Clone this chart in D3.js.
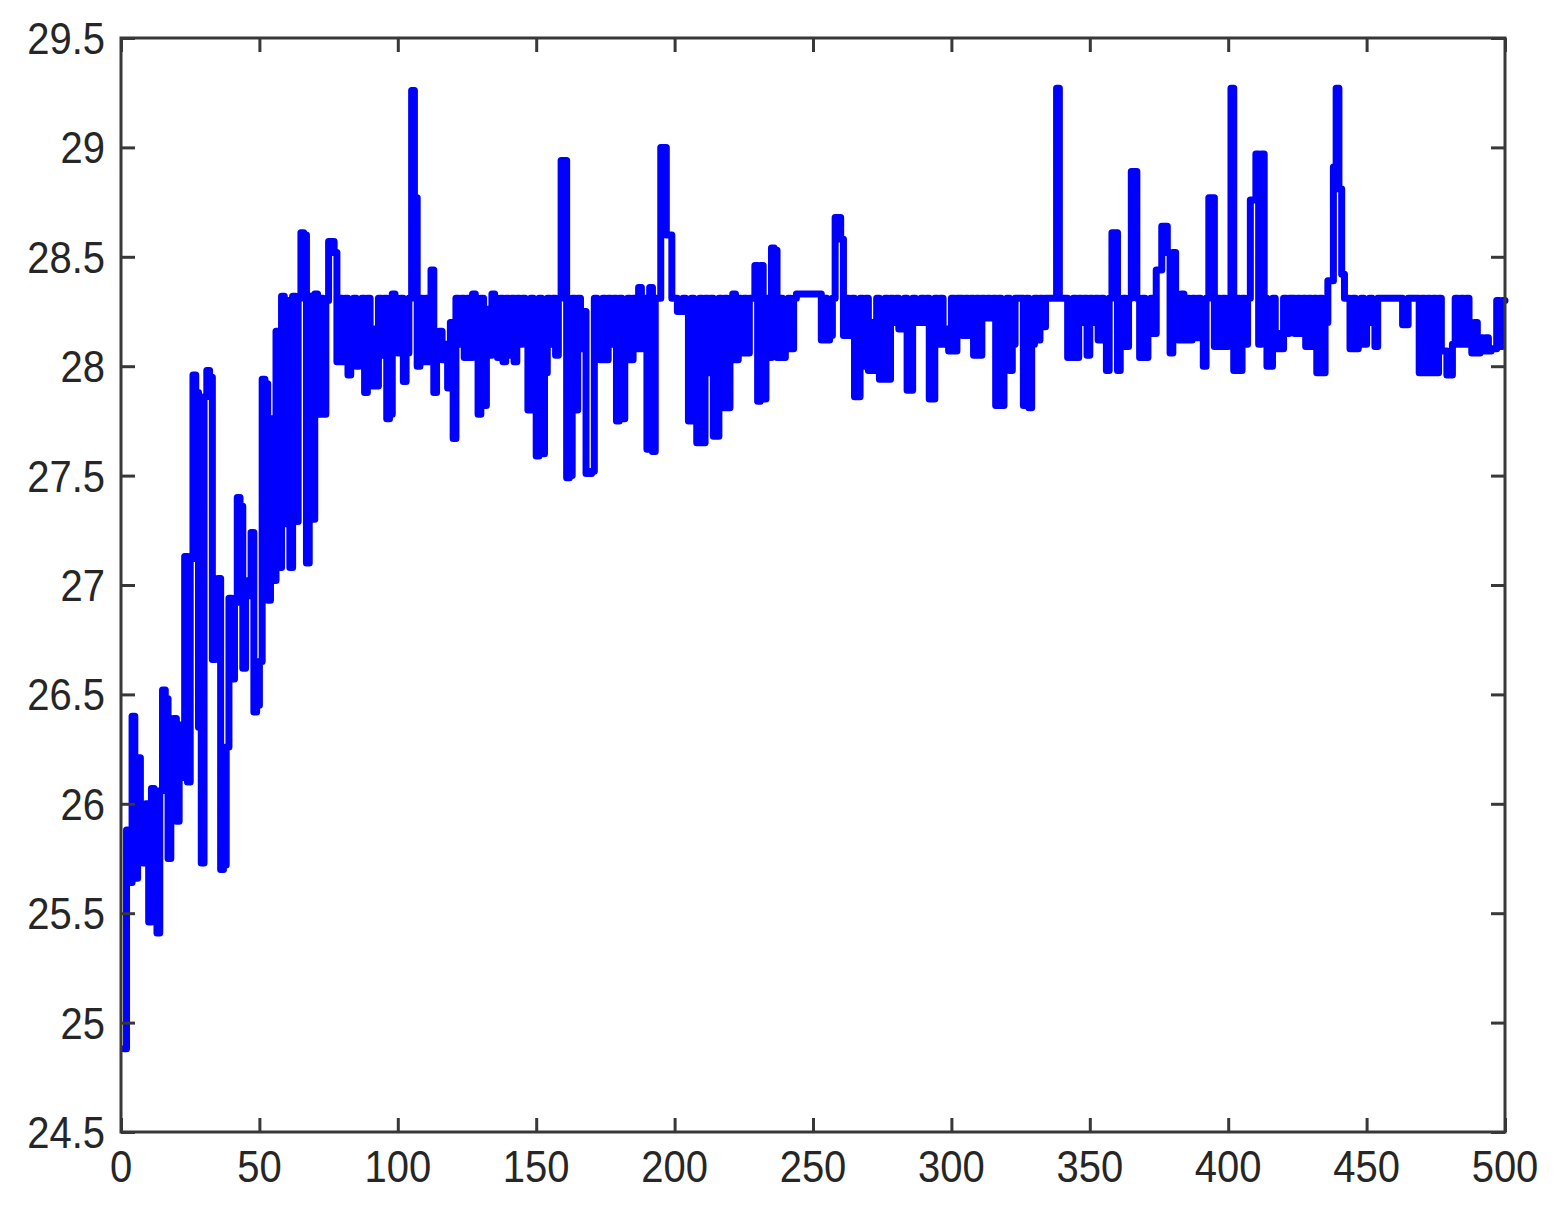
<!DOCTYPE html>
<html><head><meta charset="utf-8">
<script src="https://cdn.jsdelivr.net/npm/d3@7"></script>
<style>html,body{margin:0;padding:0;background:#fff;} svg{display:block;}</style>
</head><body>
<svg id="chart" width="1566" height="1208"></svg>
<script>
// ---- data ----
const xTicks = [0, 50, 100, 150, 200, 250, 300, 350, 400, 450, 500];
const xTickLabels = ["0", "50", "100", "150", "200", "250", "300", "350", "400", "450", "500"];
const yTicks = [24.5, 25, 25.5, 26, 26.5, 27, 27.5, 28, 28.5, 29, 29.5];
const yTickLabels = ["24.5", "25", "25.5", "26", "26.5", "27", "27.5", "28", "28.5", "29", "29.5"];

// step series: [iteration, value], value holds until the next iteration listed
const stepsEarly = [
  [1,24.88],[2,25.88],[3,25.64],[4,26.4],[5,25.66],[6,26.21],[7,25.82],[8,25.73],[9,26.0],[10,25.46],
  [11,26.07],[12,25.5],[13,25.41],[14,26.06],[15,26.52],[16,26.48],[17,25.75],[18,26.2],[19,26.39],[20,25.92],
  [21,26.36],[22,26.12],[23,27.13],[24,26.1],[25,27.12],[26,27.96],[27,27.88],[28,26.35],[29,25.73],[30,27.86],
  [31,27.98],[32,27.95],[33,26.66],[34,26.68],[35,27.03],[36,25.7],[37,25.72],[38,26.26],[39,26.94],[40,26.57],
  [41,26.92],[42,27.4],[43,27.36],[44,26.62],[45,26.95],[46,27.02],[47,27.24],[48,26.42],[49,26.45],[50,26.65],
  [51,27.94],[52,27.92],[53,26.93],[54,27.76],[55,27.02],[56,28.16],[57,27.08],[58,28.32],[59,27.28],[60,28.3],
  [61,27.08],[62,28.32],[63,27.29],[64,28.31],[65,28.61],[66,28.6],[67,27.1],[68,28.32],[69,27.3],[70,28.33],
  [71,27.78],[72,28.31],[73,27.78],[74,28.3],[75,28.57],[77,28.52],[78,28.02]
];
const stepsRise = [
  [79,28.31],[80,28.02],[81,28.31],[82,27.96],[83,28.05],[84,28.31],[85,28.0],[86,28.12],[87,28.31],[88,27.88],
  [89,28.31],[90,27.91],[91,28.17],[92,27.91],[93,28.31],[94,28.05],[95,28.31],[96,27.76],[97,27.78],[98,28.33],
  [99,28.31],[100,28.06],[101,28.31],[102,27.93],[103,28.06],[104,28.31],[105,29.26],[106,28.77],[107,28.0],[108,28.31],
  [109,28.02],[110,28.31],[111,28.02],[112,28.44],[113,27.88],[114,28.08],[115,28.16],[116,28.03],[117,28.1],[118,27.9],
  [119,28.2],[120,27.67],[121,28.31],[122,28.1],[123,28.31],[124,28.04],[125,28.31],[126,28.04],[127,28.33],[128,28.1],
  [129,27.78],[130,28.31],[131,27.82],[132,28.26],[133,28.05],[134,28.33],[135,28.31],[136,28.04],[137,28.31],[138,28.02],
  [139,28.31],[140,28.05],[141,28.31],[142,28.02],[143,28.31],[144,28.1],[145,28.31],[146,28.2],[147,27.8],[148,28.31],
  [149,27.8],[150,27.59],[151,28.31],[152,27.6],[153,27.97],[154,28.31],[155,28.1],[156,28.31],[157,28.05],[158,28.31],
  [159,28.94],[161,27.49],[162,27.5],[163,28.31],[164,27.8],[165,28.31],[166,28.08],[167,28.25],[168,27.51],[170,27.52],
  [171,28.31]
];
const stepsMid = [
  [172,28.2],[173,28.03],[174,28.31],[175,28.03],[176,28.31],[177,28.1],[178,28.31],[179,27.75],[180,28.31],[181,27.76],
  [182,28.03],[183,28.31],[184,28.03],[185,28.31],[186,28.08],[187,28.36],[188,28.08],[189,28.31],[190,27.62],[191,28.36],
  [192,27.61],[193,28.31],[195,29.0],[197,28.6],[199,28.31],[201,28.25],[203,28.31],[204,28.25],[205,27.75],[206,28.31],
  [207,27.75],[208,27.65],[209,28.31],[210,27.65],[211,28.31],[212,27.97],[213,28.31],[214,27.68],[216,28.31],[217,27.81],
  [218,28.31],[219,27.81],[220,28.03],[221,28.33],[222,28.03],[223,28.31],[224,28.06],[225,28.31],[226,28.06],[227,28.31],
  [229,28.46],[230,27.84],[231,28.46],[232,27.85],[233,28.31],[234,28.04],[235,28.54],[236,28.53],[237,28.04],[238,28.31],
  [239,28.04],[240,28.08],[241,28.31],[242,28.08],[243,28.31],[244,28.33],[253,28.12],[254,28.31],[255,28.12],[256,28.14],
  [257,28.31],[258,28.68],[260,28.58],[261,28.14],
  [262,28.31],[263,28.14],[264,28.31],[265,27.86],[267,28.31],[268,28.0],[269,28.31],[270,27.98],[271,28.2],[272,27.98],
  [273,28.31],[274,27.94],[276,28.31],[277,27.94],[278,28.31],[279,28.2],[280,28.31],[281,28.17],[283,28.31],[284,27.89],
  [286,28.31],[287,28.2],[289,28.31],[290,28.2],[291,28.31],[292,27.85],[294,28.31],[295,28.1],[296,28.31],[297,28.1],
  [298,28.17],[299,28.07],[300,28.31],[301,28.07],[302,28.31],[304,28.14],[305,28.31],[306,28.14],[307,28.31],[308,28.05],
  [309,28.31],[310,28.05],[311,28.31],[312,28.22],[313,28.31],[314,28.22],[315,28.31],[316,27.82],[317,28.31],[318,27.82],
  [319,28.24],[320,28.31],[321,27.98],[322,28.1],[323,28.31],[326,27.82],[327,28.31],[328,27.81],[329,28.1],[330,28.31],
  [331,28.12],[332,28.31],[333,28.18],[334,28.31],[338,29.27],[339,28.31]
];
const stepsLate = [
  [342,28.04],[344,28.31],[345,28.04],[346,28.31],[347,28.2],[348,28.31],[349,28.05],[350,28.31],[351,28.2],[352,28.31],
  [353,28.12],[354,28.31],[355,28.12],[356,27.98],[357,28.31],[358,28.61],[360,27.98],[361,28.09],[362,28.31],[363,28.09],
  [364,28.31],[365,28.89],[367,28.31],[368,28.04],[369,28.31],[370,28.04],[371,28.15],[372,28.31],[373,28.15],[374,28.44],
  [376,28.64],[378,28.52],[379,28.06],[380,28.52],[381,28.31],[382,28.12],[383,28.33],[384,28.12],[385,28.31],[386,28.12],
  [387,28.31],[388,28.13],[389,28.31],[390,28.13],[391,28.0],[392,28.31],[393,28.77],[395,28.09],[396,28.31],[397,28.09],
  [398,28.31],[399,28.09],[400,28.31],[401,29.27],[402,27.98],[403,28.31],[404,27.98],[405,28.31],[406,28.1],[407,28.31],
  [408,28.76],[410,28.97],[411,28.1],[412,28.97],[413,28.31],[414,28.0],[416,28.31],[417,28.08],[418,28.15],[419,28.08],
  [420,28.31],[421,28.15],[422,28.31],[424,28.15],[425,28.31],[426,28.15],[427,28.31],[428,28.09],[429,28.31],[430,28.09],
  [431,28.31],[432,27.97],[433,28.31],[434,27.97],[435,28.2],[436,28.39],[438,28.91],[439,29.27],[440,28.81],[441,28.42],
  [442,28.31],[444,28.08],[445,28.31],[446,28.08],[447,28.1],[448,28.31],[449,28.1],[450,28.2],[451,28.31],[452,28.2],
  [453,28.09],[454,28.31],[463,28.19],[465,28.31],[469,27.97],[470,28.31],[471,27.97],[472,28.31],[473,27.97],[474,28.31],
  [475,27.97],[476,28.31],[477,28.07],[479,27.96],[481,28.1],[482,28.31],[483,28.1],[484,28.31],[485,28.1],[486,28.31],
  [487,28.1],[488,28.06],[489,28.2],[490,28.06],[491,28.13],[492,28.07],[493,28.13],[494,28.07],[495,28.08],[497,28.3],
  [498,28.09],[499,28.3],[500,28.3]
];

// ---- drawing ----
const series = stepsEarly.concat(stepsRise, stepsMid, stepsLate);
const svg = d3.select("#chart");
const W = 1566, H = 1208;
const m = {left: 121, right: 1505, top: 38, bottom: 1132};

const x = d3.scaleLinear().domain([0, 500]).range([m.left, m.right]);
const y = d3.scaleLinear().domain([24.5, 29.5]).range([m.bottom, m.top]);

svg.append("rect").attr("x", 0).attr("y", 0).attr("width", W).attr("height", H).attr("fill", "#fff");

const line = d3.line()
  .x(d => x(d[0]))
  .y(d => y(d[1]))
  .curve(d3.curveStepAfter);

svg.append("path")
  .datum(series)
  .attr("d", line)
  .attr("fill", "none")
  .attr("stroke", "#0000ff")
  .attr("stroke-width", 7)
  .attr("stroke-linejoin", "round")
  .attr("stroke-linecap", "round");

// ticks on all four sides, pointing inward
const tickLen = 14;
const axisColor = "#383838";
const tickStyle = g => {
  g.select(".domain").remove();
  g.selectAll(".tick line").attr("stroke", axisColor).attr("stroke-width", 3);
  g.selectAll(".tick text").remove();
};
svg.append("g").attr("transform", `translate(0,${m.bottom})`)
  .call(d3.axisBottom(x).tickValues(xTicks).tickSizeInner(-tickLen).tickSizeOuter(0)).call(tickStyle);
svg.append("g").attr("transform", `translate(0,${m.top})`)
  .call(d3.axisTop(x).tickValues(xTicks).tickSizeInner(-tickLen).tickSizeOuter(0)).call(tickStyle);
svg.append("g").attr("transform", `translate(${m.left},0)`)
  .call(d3.axisLeft(y).tickValues(yTicks).tickSizeInner(-tickLen).tickSizeOuter(0)).call(tickStyle);
svg.append("g").attr("transform", `translate(${m.right},0)`)
  .call(d3.axisRight(y).tickValues(yTicks).tickSizeInner(-tickLen).tickSizeOuter(0)).call(tickStyle);

// frame
svg.append("rect")
  .attr("x", m.left).attr("y", m.top)
  .attr("width", m.right - m.left).attr("height", m.bottom - m.top)
  .attr("fill", "none").attr("stroke", axisColor).attr("stroke-width", 3);

// tick labels
const fontSize = 40, sy = 1.1;
const textColor = "#262626";
svg.append("g").selectAll("text").data(yTicks).join("text")
  .attr("transform", (d) => `translate(105,${y(d) + 16}) scale(1,${sy})`)
  .attr("text-anchor", "end")
  .attr("font-family", "'Liberation Sans', Arial, sans-serif")
  .attr("font-size", fontSize)
  .attr("fill", textColor)
  .text((d, i) => yTickLabels[i]);

svg.append("g").selectAll("text").data(xTicks).join("text")
  .attr("transform", (d) => `translate(${x(d)},1182) scale(1,${sy})`)
  .attr("text-anchor", "middle")
  .attr("font-family", "'Liberation Sans', Arial, sans-serif")
  .attr("font-size", fontSize)
  .attr("fill", textColor)
  .text((d, i) => xTickLabels[i]);
</script>
</body></html>
